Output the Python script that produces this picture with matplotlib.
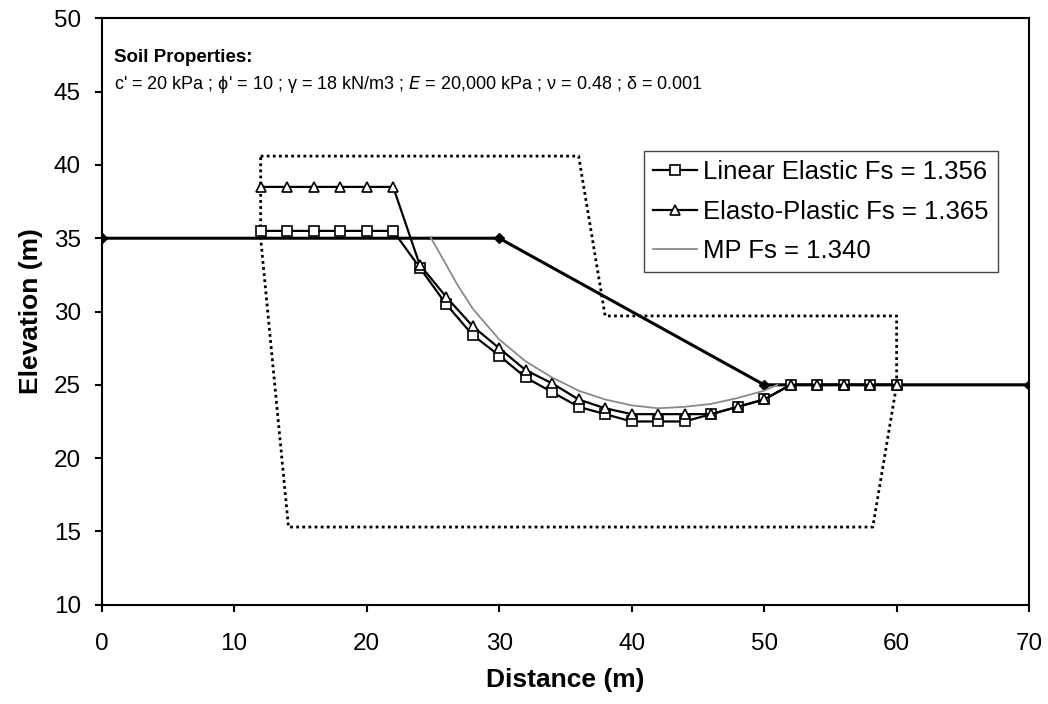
import numpy as np
import matplotlib
matplotlib.use("Agg")
import matplotlib.pyplot as plt

plt.rcParams['font.family'] = ['Liberation Sans', 'DejaVu Sans']

# ground surface
ground_x = [0, 30, 50, 70]
ground_y = [35, 35, 25, 25]

# slip surfaces
slip_x = [12, 14, 16, 18, 20, 22, 24, 26, 28, 30, 32, 34, 36, 38, 40, 42, 44,
          46, 48, 50, 52, 54, 56, 58, 60]
linear_y = [35.5, 35.5, 35.5, 35.5, 35.5, 35.5, 33.0, 30.5, 28.4, 27.0, 25.5,
            24.5, 23.5, 23.0, 22.5, 22.5, 22.5, 23.0, 23.5, 24.0, 25, 25, 25, 25, 25]
plastic_y = [38.5, 38.5, 38.5, 38.5, 38.5, 38.5, 33.2, 31.0, 29.0, 27.5, 26.0,
             25.1, 24.0, 23.4, 23.0, 23.0, 23.0, 23.0, 23.5, 24.0, 25, 25, 25, 25, 25]

mp_x = [24.8, 26, 26.8, 28, 30, 32, 34, 36, 38, 40, 42, 44, 46, 48, 50, 51]
mp_y = [35.1, 33.2, 31.9, 30.2, 28.1, 26.6, 25.5, 24.6, 24.0, 23.6, 23.4, 23.5,
        23.7, 24.1, 24.6, 25.0]

# search box
box_x = [12, 36, 38, 60, 60, 58.2, 14.1, 12, 12]
box_y = [40.6, 40.6, 29.7, 29.7, 25, 15.3, 15.3, 35, 40.6]

fig = plt.figure(figsize=(10.48, 7.04), dpi=100)
ax = fig.add_axes([0.097, 0.141, 0.885, 0.833])

ax.plot(box_x, box_y, color='black', lw=2, linestyle=(0, (1, 1.2)))
ax.plot(ground_x, ground_y, color='black', lw=2.2, marker='D', markersize=5)
ax.plot(slip_x, linear_y, color='black', lw=1.6, marker='s', markersize=7,
        markerfacecolor='white', markeredgewidth=1.2, label='Linear Elastic Fs = 1.356')
ax.plot(slip_x, plastic_y, color='black', lw=1.6, marker='^', markersize=7,
        markerfacecolor='white', markeredgewidth=1.2, label='Elasto-Plastic Fs = 1.365')
ax.plot(mp_x, mp_y, color='#8a8a8a', lw=1.3, label='MP Fs = 1.340')

ax.set_xlim(0, 70)
ax.set_ylim(10, 50)
ax.set_xticks(np.arange(0, 71, 10))
ax.set_yticks(np.arange(10, 51, 5))
ax.tick_params(labelsize=17.5, direction='out', length=5, width=1.5)
ax.tick_params(axis='x', pad=15)
ax.tick_params(axis='y', pad=10)
for s in ax.spines.values():
    s.set_linewidth(1.5)

ax.set_xlabel('Distance (m)', fontsize=19, fontweight='bold', labelpad=10)
ax.set_ylabel('Elevation (m)', fontsize=19, fontweight='bold', labelpad=8)

ax.text(0.9, 47.3, 'Soil Properties:', fontsize=13.5, fontweight='bold', va='center')
ax.text(0.9, 45.5, "c' = 20 kPa ; \u03d5' = 10 ; \u03b3 = 18 kN/m3 ; $\\it{E}$ = 20,000 kPa ; "
        "\u03bd = 0.48 ; \u03b4 = 0.001", fontsize=13, va='center')

leg = ax.legend(loc='upper right', bbox_to_anchor=(0.966, 0.773), fontsize=18.5,
                fancybox=False, framealpha=1, edgecolor='#444444', borderaxespad=0,
                handlelength=1.7, handletextpad=0.25, borderpad=0.35, labelspacing=0.6)
leg.get_frame().set_linewidth(1.0)

fig.savefig('out.png', dpi=100)
